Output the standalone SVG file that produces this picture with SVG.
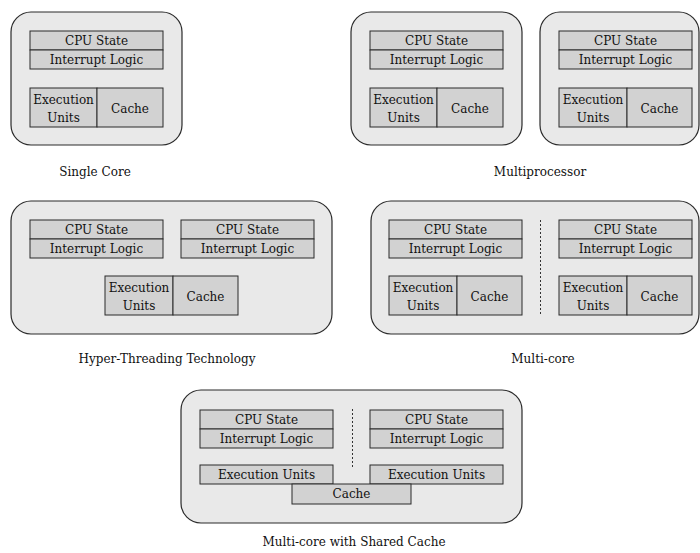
<svg xmlns="http://www.w3.org/2000/svg" width="700" height="553" viewBox="0 0 700 553">
<style>
.o{fill:#e9e9e9;stroke:#2a2a2a;stroke-width:1.2}
.i{fill:#d2d2d2;stroke:#2a2a2a;stroke-width:1}
text{font-family:"DejaVu Serif","Liberation Serif",serif;font-size:12px;fill:#111;text-anchor:middle}
.sep{stroke:#333;stroke-width:1;stroke-dasharray:2,2;fill:none}
</style>
<rect width="700" height="553" fill="#fff"/>
<g id="single-core">
<rect class="o" x="11" y="12" width="171" height="133" rx="20"/>
<rect class="i" x="30" y="31" width="133" height="19"/>
<rect class="i" x="30" y="50" width="133" height="19"/>
<rect class="i" x="30" y="88" width="67" height="39"/>
<rect class="i" x="97" y="88" width="66" height="39"/>
<text x="96.5" y="45">CPU State</text>
<text x="96.5" y="64">Interrupt Logic</text>
<text x="63.5" y="104">Execution</text>
<text x="63.5" y="122">Units</text>
<text x="130" y="113">Cache</text>
<text x="95" y="176">Single Core</text>
</g>
<g id="multiprocessor-1">
<rect class="o" x="351" y="12" width="171" height="133" rx="20"/>
<rect class="i" x="370" y="31" width="133" height="19"/>
<rect class="i" x="370" y="50" width="133" height="19"/>
<rect class="i" x="370" y="88" width="67" height="39"/>
<rect class="i" x="437" y="88" width="66" height="39"/>
<text x="436.5" y="45">CPU State</text>
<text x="436.5" y="64">Interrupt Logic</text>
<text x="403.5" y="104">Execution</text>
<text x="403.5" y="122">Units</text>
<text x="470" y="113">Cache</text>
</g>
<g id="multiprocessor-2">
<rect class="o" x="540" y="12" width="159" height="133" rx="20"/>
<rect class="i" x="559" y="31" width="133" height="19"/>
<rect class="i" x="559" y="50" width="133" height="19"/>
<rect class="i" x="559" y="88" width="68" height="39"/>
<rect class="i" x="627" y="88" width="65" height="39"/>
<text x="625.5" y="45">CPU State</text>
<text x="625.5" y="64">Interrupt Logic</text>
<text x="593" y="104">Execution</text>
<text x="593" y="122">Units</text>
<text x="659.5" y="113">Cache</text>
</g>
<text id="multiprocessor-label" x="540" y="176">Multiprocessor</text>
<g id="hyper-threading">
<rect class="o" x="11" y="201" width="321" height="133" rx="20"/>
<rect class="i" x="30" y="220" width="133" height="19"/>
<rect class="i" x="30" y="239" width="133" height="19"/>
<rect class="i" x="181" y="220" width="133" height="19"/>
<rect class="i" x="181" y="239" width="133" height="19"/>
<rect class="i" x="105" y="276" width="68" height="39"/>
<rect class="i" x="173" y="276" width="65" height="39"/>
<text x="96.5" y="234">CPU State</text>
<text x="96.5" y="253">Interrupt Logic</text>
<text x="247.5" y="234">CPU State</text>
<text x="247.5" y="253">Interrupt Logic</text>
<text x="139" y="292">Execution</text>
<text x="139" y="310">Units</text>
<text x="205.5" y="301">Cache</text>
<text x="167" y="363">Hyper-Threading Technology</text>
</g>
<g id="multi-core">
<rect class="o" x="371" y="201" width="328" height="133" rx="20"/>
<rect class="i" x="389" y="220" width="133" height="19"/>
<rect class="i" x="389" y="239" width="133" height="19"/>
<rect class="i" x="559" y="220" width="133" height="19"/>
<rect class="i" x="559" y="239" width="133" height="19"/>
<rect class="i" x="389" y="276" width="68" height="39"/>
<rect class="i" x="457" y="276" width="65" height="39"/>
<rect class="i" x="559" y="276" width="68" height="39"/>
<rect class="i" x="627" y="276" width="65" height="39"/>
<text x="455.5" y="234">CPU State</text>
<text x="455.5" y="253">Interrupt Logic</text>
<text x="625.5" y="234">CPU State</text>
<text x="625.5" y="253">Interrupt Logic</text>
<text x="423" y="292">Execution</text>
<text x="423" y="310">Units</text>
<text x="489.5" y="301">Cache</text>
<text x="593" y="292">Execution</text>
<text x="593" y="310">Units</text>
<text x="659.5" y="301">Cache</text>
<text x="543" y="363">Multi-core</text>
</g>
<g id="shared-cache">
<rect class="o" x="181" y="390" width="341" height="133" rx="20"/>
<rect class="i" x="200" y="410" width="133" height="19"/>
<rect class="i" x="200" y="429" width="133" height="19"/>
<rect class="i" x="370" y="410" width="133" height="19"/>
<rect class="i" x="370" y="429" width="133" height="19"/>
<rect class="i" x="200" y="465" width="133" height="19"/>
<rect class="i" x="370" y="465" width="133" height="19"/>
<rect class="i" x="292" y="484" width="119" height="20"/>
<text x="266.5" y="424">CPU State</text>
<text x="266.5" y="443">Interrupt Logic</text>
<text x="436.5" y="424">CPU State</text>
<text x="436.5" y="443">Interrupt Logic</text>
<text x="266.5" y="479">Execution Units</text>
<text x="436.5" y="479">Execution Units</text>
<text x="351.5" y="498">Cache</text>
<text x="354" y="546">Multi-core with Shared Cache</text>
</g>
<g id="connectors">
<line class="sep" x1="540.5" y1="220" x2="540.5" y2="315"/>
<line class="sep" x1="352.5" y1="409" x2="352.5" y2="467"/>
</g>
</svg>
